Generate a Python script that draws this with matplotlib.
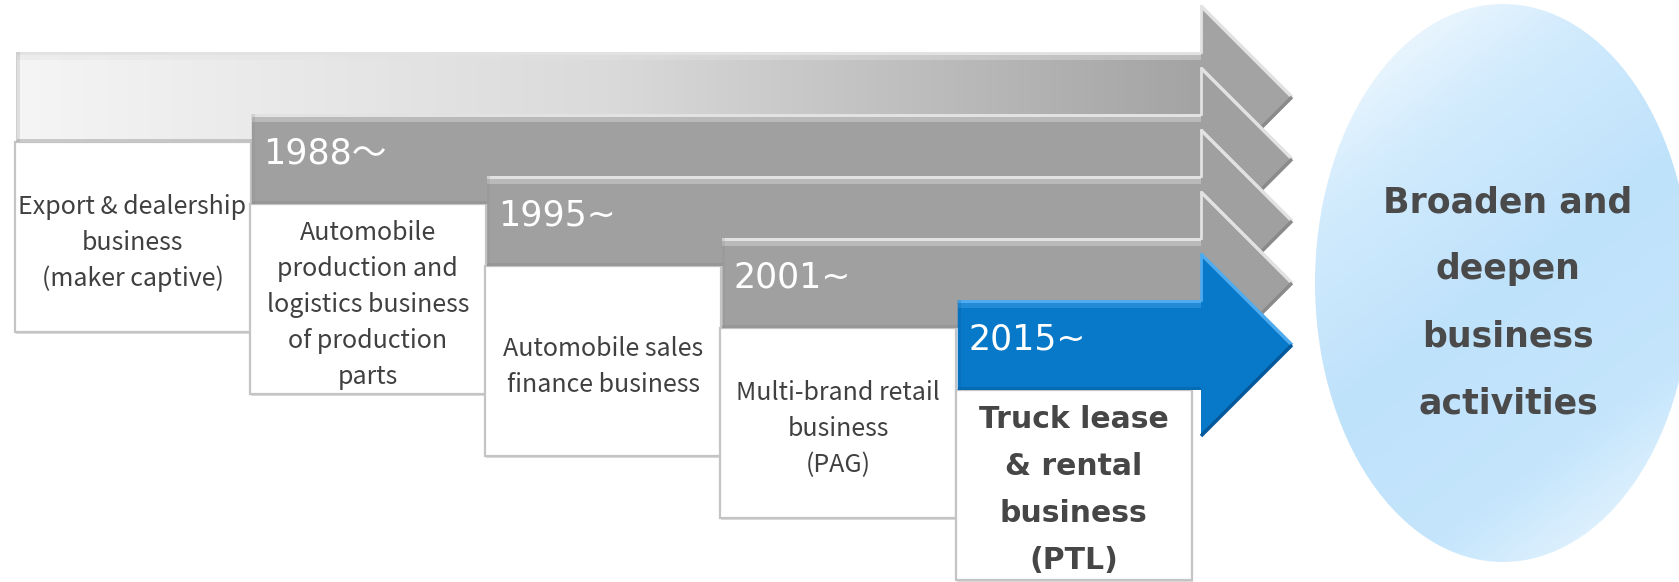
import numpy as np
import matplotlib.pyplot as plt
from matplotlib.patches import Polygon, Rectangle, Ellipse
from matplotlib.colors import to_rgb

W, H = 1679, 582

# content
years = ['', '1988～', '1995~', '2001~', '2015~']
businesses = [
    'Export & dealership\nbusiness\n(maker captive)',
    'Automobile\nproduction and\nlogistics business\nof production\nparts',
    'Automobile sales\nfinance business',
    'Multi-brand retail\nbusiness\n(PAG)',
    'Truck lease\n& rental\nbusiness\n(PTL)',
]
highlight = 4   # the newest business, drawn in blue
goal = 'Broaden and\ndeepen\nbusiness\nactivities'

# layout (pixels, y downwards)
x_first, step_x = 16.5, 235.3
y_first, step_y = 52, 62
body_h = 90
head_x, tip_x, head_pad = 1201, 1292, 46
box_w, box_h = 236, 190

GREY = '#a0a0a0'
BLUE = '#0878c8'
TXT = '#404040'

fig = plt.figure(figsize=(W / 100, H / 100), dpi=100)
ax = fig.add_axes([0, 0, 1, 1])


def arrow_pts(x0, top):
    bot = top + body_h
    mid = top + body_h / 2
    return [(x0, top), (head_x, top), (head_x, top - head_pad), (tip_x, mid),
            (head_x, bot + head_pad), (head_x, bot), (x0, bot)]


def gradient(cols, t):
    stops = np.linspace(0, 1, len(cols))
    rgb = np.array([to_rgb(c) for c in cols])
    return np.stack([np.interp(t, stops, rgb[:, k]) for k in range(3)], axis=-1)


n = len(businesses)
for i in range(n):
    x0 = x_first + step_x * i
    top = y_first + step_y * i
    bot = top + body_h
    blue = (i == highlight)
    base = BLUE if blue else GREY
    light = '#4fabee' if blue else '#e2e2e2'
    dark = '#05599a' if blue else '#8a8a8a'

    poly = Polygon(arrow_pts(x0, top), closed=True, facecolor=base,
                   edgecolor='none', zorder=2 + i * 0.1)
    ax.add_patch(poly)

    if i == 0:
        # first arrow fades from almost white to grey
        xs = np.linspace(0, 1, 600)
        t = np.clip(xs * (tip_x - x0) / (head_x - x0), 0, 1)
        img = gradient(['#f5f5f5', '#dadada', '#a3a3a3'], t)[None, :, :]
        im = ax.imshow(img, extent=(x0, tip_x, bot + head_pad, top - head_pad),
                       aspect='auto', zorder=2.01, interpolation='bilinear')
        im.set_clip_path(poly)

    # bevels on the body
    z = 2.02 + i * 0.1
    ax.add_patch(Rectangle((x0, top), head_x - x0, 3, color=light, lw=0, zorder=z))
    ax.add_patch(Rectangle((x0, top + 3), head_x - x0, 5, color=light, alpha=0.4,
                           lw=0, zorder=z))
    ax.add_patch(Rectangle((x0, bot - 3), head_x - x0, 3, color=dark, alpha=0.4,
                           lw=0, zorder=z))
    ax.add_patch(Rectangle((x0, top), 3, body_h, color=dark, alpha=0.2, lw=0, zorder=z))
    # bevels on the head
    mid = top + body_h / 2
    ax.plot([head_x, tip_x], [top - head_pad, mid], color=light, lw=2.5,
            solid_capstyle='butt', zorder=z)
    ax.plot([tip_x, head_x], [mid, bot + head_pad], color=dark, lw=2.5,
            solid_capstyle='butt', zorder=z)
    ax.plot([head_x, head_x], [top - head_pad, top], color=light, lw=2, zorder=z)

    if years[i]:
        ax.text(x0 + 11, top + 49, years[i], color='white', fontsize=25,
                family=['DejaVu Sans', 'Noto Sans CJK JP'], ha='left',
                va='baseline', zorder=3 + i)

    # text box below the arrow
    bx = x0 - 2
    ax.add_patch(Rectangle((bx + 1, bot + 2), box_w, box_h, color='#9a9a9a',
                           alpha=0.35, lw=0, zorder=1.5))
    ax.add_patch(Rectangle((bx, bot), box_w, box_h, facecolor='white',
                           edgecolor='#c4c4c4', lw=1.6, zorder=1.6))

    lines = businesses[i].split('\n')
    cx = bx + box_w / 2
    if blue:
        cy = bot + box_h / 2 + 5
        gap, kw = 47, dict(fontsize=21.5, fontweight='bold', family='DejaVu Sans',
                           color='#464646')
    else:
        cy = bot + box_h / 2 + 6
        gap, kw = 36, dict(fontsize=18, family='Noto Sans CJK JP', color=TXT)
    for k, line in enumerate(lines):
        y = cy + (k - (len(lines) - 1) / 2) * gap
        ax.text(cx, y, line, ha='center', va='center', zorder=1.7, **kw)

# goal ellipse with soft blue gradient
ecx, ecy, ew, eh = 1503, 283, 376, 558
ell = Ellipse((ecx, ecy), ew, eh, facecolor='none', edgecolor='none', zorder=1)
ax.add_patch(ell)
gx, gy = np.meshgrid(np.linspace(0, 1, 300), np.linspace(0, 1, 400))
tt = np.clip((0.5 * gx + 1.0 * gy) / 1.5, 0, 1)
eimg = gradient(['#ffffff', '#d2ebfd', '#bfe2fb', '#c4e5fc', '#f4faff'], tt)
eim = ax.imshow(eimg, extent=(ecx - ew / 2, ecx + ew / 2, ecy + eh / 2, ecy - eh / 2),
                aspect='auto', zorder=1, interpolation='bilinear')
eim.set_clip_path(ell)

glines = goal.split('\n')
for k, line in enumerate(glines):
    y = 303 + (k - (len(glines) - 1) / 2) * 67
    ax.text(1508, y, line, ha='center', va='center', fontsize=25,
            fontweight='bold', color='#4a4a4a', zorder=2)

ax.set_xlim(0, W)
ax.set_ylim(H, 0)
ax.axis('off')

fig.savefig('out.png', dpi=100)
